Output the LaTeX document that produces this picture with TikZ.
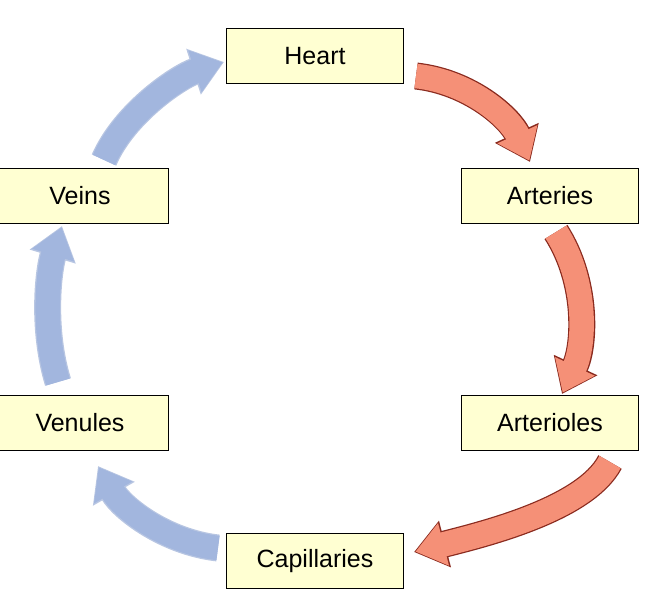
\documentclass[tikz,border=0pt]{standalone}
\usepackage{fontspec}
\setmainfont{Liberation Sans}
\usetikzlibrary{arrows.meta}
\definecolor{boxfill}{HTML}{FFFFD2}
\definecolor{redf}{HTML}{F59077}
\definecolor{redd}{HTML}{8A2A1E}
\definecolor{bluef}{HTML}{A2B6DE}
\definecolor{blued}{HTML}{B8C6E2}
\begin{document}
\begin{tikzpicture}[x=1pt,y=-1pt,
  box/.style={draw=black,line width=1pt,fill=boxfill,minimum width=177pt,minimum height=55pt,inner sep=0pt,font=\fontsize{25}{30}\selectfont},
  redout/.style={draw=redd,line width=27pt,-{Triangle[width=46pt,length=32pt]}},
  redin/.style={draw=redf,line width=24.5pt,-{Triangle[width=42pt,length=29pt]},shorten >=1.5pt},
  blueout/.style={draw=blued,line width=27pt,-{Triangle[width=46pt,length=32pt]}},
  bluein/.style={draw=bluef,line width=24.5pt,-{Triangle[width=42pt,length=29pt]},shorten >=1.5pt}]
\useasboundingbox (0,0) rectangle (648,598);
\node[box] (heart) at (315,56) {Heart};
\node[box] (arteries) at (550,196) {Arteries};
\node[box] (arterioles) at (550,423) {Arterioles};
\node[box] (cap) at (315,561) {Capillaries};
\node[box] (venules) at (80,423) {Venules};
\node[box] (veins) at (80,196) {Veins};
\coordinate (r1s) at (416,76); \coordinate (r1e) at (530,162);
\coordinate (r2s) at (556,232); \coordinate (r2e) at (562,394);
\coordinate (r3s) at (610,462); \coordinate (r3e) at (414,552);
\coordinate (b1s) at (218,548); \coordinate (b1e) at (98,466);
\coordinate (b2s) at (58,382); \coordinate (b2e) at (62,226);
\coordinate (b3s) at (104,160); \coordinate (b3e) at (224,62);
\foreach \s/\e/\p/\q in {r1s/r1e/{(470,82)}/{(510,118)}, r2s/r2e/{(588,282)}/{(585,345)}, r3s/r3e/{(585,510)}/{(480,535)}}{
  \draw[redout] (\s) .. controls \p and \q .. (\e);
  \draw[redin] (\s) .. controls \p and \q .. (\e);}
\foreach \s/\e/\p/\q in {b1s/b1e/{(165,542)}/{(122,508)}, b2s/b2e/{(42,330)}/{(48,272)}, b3s/b3e/{(125,112)}/{(180,76)}}{
  \draw[blueout] (\s) .. controls \p and \q .. (\e);
  \draw[bluein] (\s) .. controls \p and \q .. (\e);}
\end{tikzpicture}
\end{document}
